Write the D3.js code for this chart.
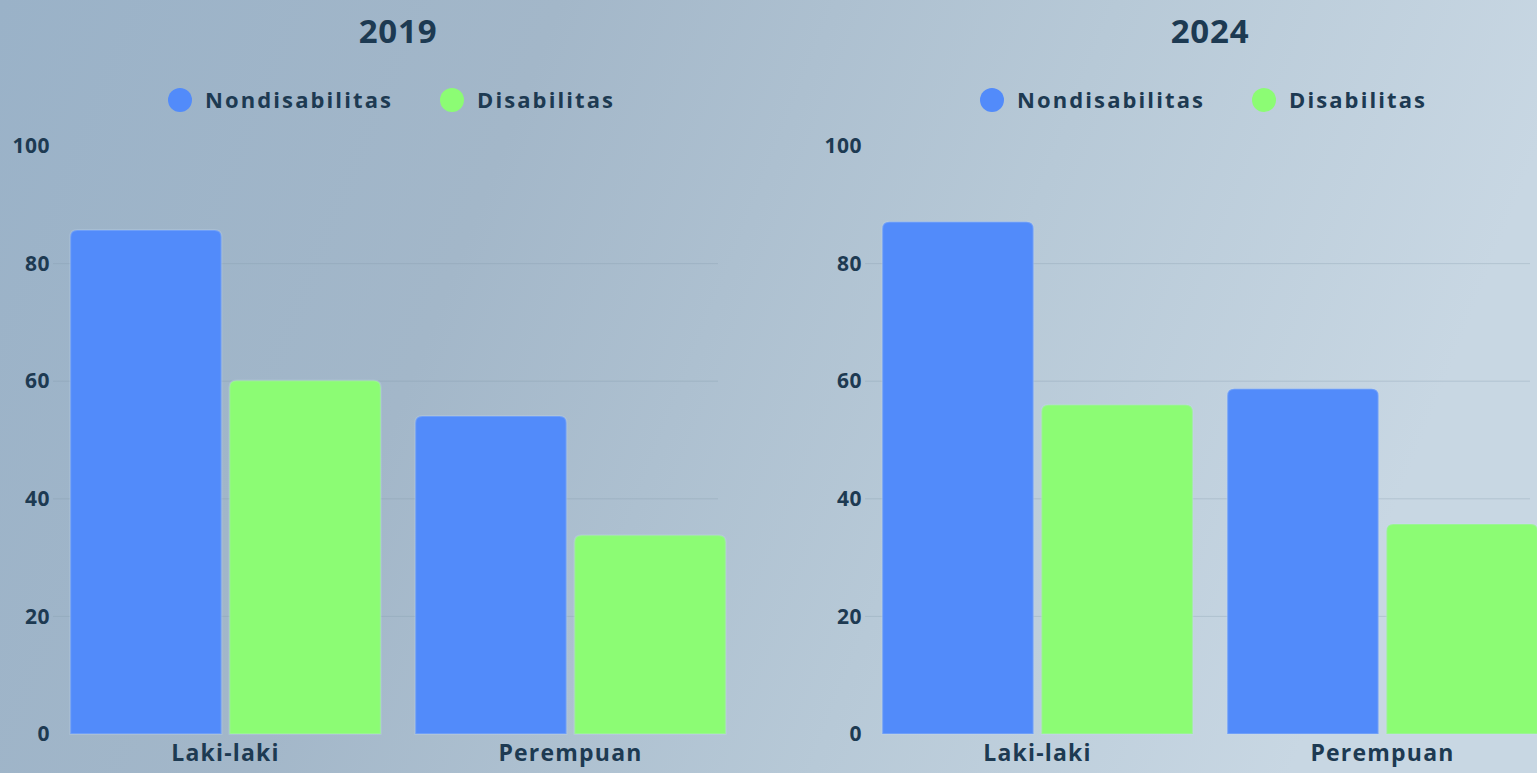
<!DOCTYPE html>
<html>
<head>
<meta charset="utf-8">
<script src="https://cdn.jsdelivr.net/npm/d3@7"></script>
<style>
  html, body { margin: 0; padding: 0; overflow: hidden; }
  body { width: 1537px; height: 773px; }
  text { font-family: "Open Sans", "Lato", sans-serif; font-weight: 700; fill: #1d3a52; }
</style>
</head>
<body>
<div id="plot"></div>
<script>
// data
var years = ["2019", "2024"];
var categories = ["Laki-laki", "Perempuan"];
var seriesNames = ["Nondisabilitas", "Disabilitas"];
var nondis2019 = [85.7, 54.1];
var dis2019 = [60.1, 33.8];
var nondis2024 = [87.1, 58.7];
var dis2024 = [56.0, 35.7];
var yTicks = [0, 20, 40, 60, 80, 100];
var gridTicks = [20, 40, 60, 80];

var colors = ["#528bfa", "#8cfc74"];

var W = 1537, H = 773;
var panelShift = 812;

var svg = d3.select("#plot").append("svg")
  .attr("width", W)
  .attr("height", H);

// background gradient
var defs = svg.append("defs");
var grad = defs.append("linearGradient")
  .attr("id", "bg")
  .attr("x1", "0%").attr("y1", "0%")
  .attr("x2", "100%").attr("y2", "20%");
grad.append("stop").attr("offset", "0%").attr("stop-color", "#9ab2c8");
grad.append("stop").attr("offset", "35%").attr("stop-color", "#a3b7c9");
grad.append("stop").attr("offset", "70%").attr("stop-color", "#b7c9d7");
grad.append("stop").attr("offset", "100%").attr("stop-color", "#c8d7e3");

svg.append("rect")
  .attr("width", W)
  .attr("height", H)
  .attr("fill", "url(#bg)");

var y = d3.scaleLinear()
  .domain([0, 100])
  .range([734, 146]);

// path for a bar with rounded top corners
function topRounded(x, yTop, w, yBottom, r) {
  r = Math.min(r, w / 2, yBottom - yTop);
  return "M" + x + "," + yBottom +
    "V" + (yTop + r) +
    "Q" + x + "," + yTop + " " + (x + r) + "," + yTop +
    "H" + (x + w - r) +
    "Q" + (x + w) + "," + yTop + " " + (x + w) + "," + (yTop + r) +
    "V" + yBottom + "Z";
}

function drawPanel(offset, title, nondis, dis) {
  var g = svg.append("g").attr("transform", "translate(" + offset + ",0)");

  var x0 = d3.scaleBand()
    .domain(categories)
    .range([53, 743])
    .paddingInner(0.1)
    .paddingOuter(0.05);

  var x1 = d3.scaleBand()
    .domain(seriesNames)
    .range([0, x0.bandwidth()])
    .paddingInner(0.05);

  var center = 398;

  // title
  g.append("text")
    .attr("x", center)
    .attr("y", 43)
    .attr("text-anchor", "middle")
    .style("font-size", "33px")
    .style("letter-spacing", "0.8px")
    .text(title);

  // legend
  var legendX = [center - 218, center + 54];
  seriesNames.forEach(function (name, i) {
    g.append("circle")
      .attr("cx", legendX[i])
      .attr("cy", 100)
      .attr("r", 12)
      .attr("fill", colors[i]);
    g.append("text")
      .attr("x", legendX[i] + 25)
      .attr("y", 108)
      .style("font-size", "22px")
      .style("letter-spacing", "2.1px")
      .text(name);
  });

  // grid lines
  g.selectAll(".grid")
    .data(gridTicks)
    .join("line")
    .attr("class", "grid")
    .attr("x1", 53)
    .attr("x2", 718)
    .attr("y1", d => y(d))
    .attr("y2", d => y(d))
    .attr("stroke", "#8297aa")
    .attr("stroke-opacity", 0.3)
    .attr("stroke-width", 1);

  // y axis
  var yAxis = g.append("g")
    .attr("transform", "translate(53,0)")
    .call(d3.axisLeft(y).tickValues(yTicks).tickSize(0).tickPadding(3));
  yAxis.select(".domain").remove();
  yAxis.selectAll("text")
    .style("font-size", "21px")
    .style("font-family", "'Open Sans', sans-serif")
    .style("font-weight", 700)
    .style("letter-spacing", "0.5px")
    .attr("fill", "#1d3a52");

  // bars
  var rows = categories.map(function (c, i) {
    return { cat: c, vals: [nondis[i], dis[i]] };
  });

  var groups = g.selectAll(".grp")
    .data(rows)
    .join("g")
    .attr("class", "grp")
    .attr("transform", d => "translate(" + x0(d.cat) + ",0)");

  groups.selectAll("path")
    .data(d => d.vals.map(function (v, i) { return { name: seriesNames[i], value: v, idx: i }; }))
    .join("path")
    .attr("d", d => topRounded(x1(d.name), y(d.value), x1.bandwidth(), y(0), 7))
    .attr("fill", d => colors[d.idx])
    .attr("stroke", "#c9dcf5")
    .attr("stroke-opacity", 0.25)
    .attr("stroke-width", 2);

  // x axis labels
  var xAxis = g.append("g")
    .attr("transform", "translate(0," + y(0) + ")")
    .call(d3.axisBottom(x0).tickSize(0).tickPadding(11));
  xAxis.select(".domain").remove();
  xAxis.selectAll("text")
    .style("font-size", "23px")
    .style("font-family", "'Open Sans', sans-serif")
    .style("font-weight", 700)
    .style("letter-spacing", "1.2px")
    .attr("fill", "#1d3a52");
}

drawPanel(0, years[0], nondis2019, dis2019);
drawPanel(panelShift, years[1], nondis2024, dis2024);
</script>
</body>
</html>
